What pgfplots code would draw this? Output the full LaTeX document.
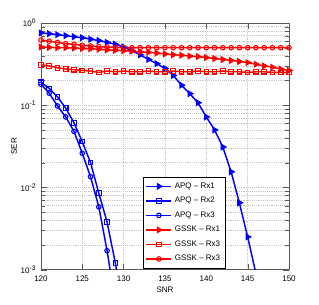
\documentclass[border=0pt]{standalone}
\usepackage{fontspec}
\setmainfont{Liberation Sans}
\usepackage{pgfplots}
\pgfplotsset{compat=1.18}
\begin{document}
\begin{tikzpicture}
\begin{axis}[
  scale only axis,
  width=186pt, height=185pt,
  xmode=normal, ymode=log,
  xmin=120, xmax=150, ymin=1e-3, ymax=1,
  xtick={120,125,...,150},
  ytick={1e-3,1e-2,1e-1,1},
  yticklabels={10\textsuperscript{-3},10\textsuperscript{-2},10\textsuperscript{-1},10\textsuperscript{0}},
  xticklabel style={/pgf/number format/assume math mode=true, yshift=-1.5pt},
  tick label style={font=\fontsize{6}{7}\selectfont},
  label style={font=\fontsize{6}{7}\selectfont},
  xlabel={SNR}, ylabel={SER},
  xlabel style={yshift=3pt},
  ylabel style={yshift=-4pt},
  grid=both,
  major grid style={gray!45, densely dotted, line width=0.4pt},
  minor grid style={gray!45, densely dotted, line width=0.4pt},
  minor x tick num=0,
  tick align=inside,
  axis line style={gray!70!black, line width=0.6pt},
  tick style={gray!70!black},
  clip=true,
  legend style={at={(0.41,0.005)}, anchor=south west, font=\fontsize{6}{7}\selectfont,
    draw=black, line width=0.5pt, inner sep=2pt, row sep=1.2pt, cells={anchor=west}},
  legend cell align=left,
  legend image code/.code={\draw[mark repeat=2,mark phase=2] plot coordinates {(0cm,0cm)(0.33cm,0cm)(0.66cm,0cm)};},
  every axis plot/.append style={line width=1.1pt},
]
\coordinate (bl) at (rel axis cs:-0.165,-0.142);
\coordinate (tr) at (rel axis cs:1.121,1.093);
% APQ - Rx1
\addplot[blue, mark=triangle*, mark options={rotate=-90, scale=1.05, fill=blue}] coordinates {
(120,0.755)(121,0.74)(122,0.72)(123,0.70)(124,0.68)(125,0.66)(126,0.635)(127,0.61)(128,0.58)(129,0.55)
(130,0.51)(131,0.46)(132,0.41)(133,0.36)(134,0.32)(135,0.28)(136,0.23)(137,0.175)(138,0.138)(139,0.107)
(140,0.072)(141,0.05)(142,0.031)(143,0.0155)(144,0.0065)(145,0.0025)(146,0.0009)(147,0.0003)};
\addlegendentry{APQ -- Rx1}
% APQ - Rx2
\addplot[blue, mark=square, mark options={scale=0.85, fill=none, line width=0.8pt}] coordinates {
(120,0.19)(121,0.16)(122,0.126)(123,0.092)(124,0.061)(125,0.036)(126,0.020)(127,0.0085)(128,0.0038)(129,0.0012)(130,0.0003)};
\addlegendentry{APQ -- Rx2}
% APQ - Rx3
\addplot[blue, mark=o, mark options={scale=0.85, fill=none, line width=0.8pt}] coordinates {
(120,0.18)(121,0.14)(122,0.098)(123,0.072)(124,0.048)(125,0.026)(126,0.0135)(127,0.0058)(128,0.0017)(129,0.0004)};
\addlegendentry{APQ -- Rx3}
% GSSK - Rx1
\addplot[red, mark=triangle*, mark options={rotate=-90, scale=1.05, fill=red}] coordinates {
(120,0.51)(121,0.505)(122,0.50)(123,0.50)(124,0.495)(125,0.49)(126,0.485)(127,0.48)(128,0.47)(129,0.465)
(130,0.46)(131,0.455)(132,0.445)(133,0.44)(134,0.43)(135,0.42)(136,0.41)(137,0.405)(138,0.395)(139,0.39)
(140,0.38)(141,0.37)(142,0.36)(143,0.35)(144,0.34)(145,0.33)(146,0.315)(147,0.30)(148,0.29)(149,0.275)(150,0.265)};
\addlegendentry{GSSK -- Rx1}
% GSSK - Rx3 (squares)
\addplot[red, mark=square, mark options={scale=0.85, fill=none, line width=0.8pt}] coordinates {
(120,0.31)(121,0.30)(122,0.285)(123,0.275)(124,0.27)(125,0.265)(126,0.26)(127,0.25)(128,0.26)(129,0.255)
(130,0.26)(131,0.255)(132,0.255)(133,0.26)(134,0.255)(135,0.255)(136,0.26)(137,0.255)(138,0.255)(139,0.26)
(140,0.255)(141,0.255)(142,0.26)(143,0.255)(144,0.255)(145,0.25)(146,0.255)(147,0.255)(148,0.25)(149,0.25)(150,0.25)};
\addlegendentry{GSSK -- Rx3}
% GSSK - Rx3 (circles)
\addplot[red, mark=o, mark options={scale=0.85, fill=none, line width=0.8pt}] coordinates {
(120,0.62)(121,0.60)(122,0.58)(123,0.56)(124,0.55)(125,0.535)(126,0.525)(127,0.515)(128,0.51)(129,0.505)
(130,0.50)(131,0.50)(132,0.50)(133,0.50)(134,0.50)(135,0.50)(136,0.50)(137,0.50)(138,0.50)(139,0.50)
(140,0.50)(141,0.50)(142,0.50)(143,0.50)(144,0.50)(145,0.50)(146,0.50)(147,0.50)(148,0.50)(149,0.50)(150,0.50)};
\addlegendentry{GSSK -- Rx3}
\end{axis}
\path (bl) rectangle (tr);
\end{tikzpicture}
\end{document}
